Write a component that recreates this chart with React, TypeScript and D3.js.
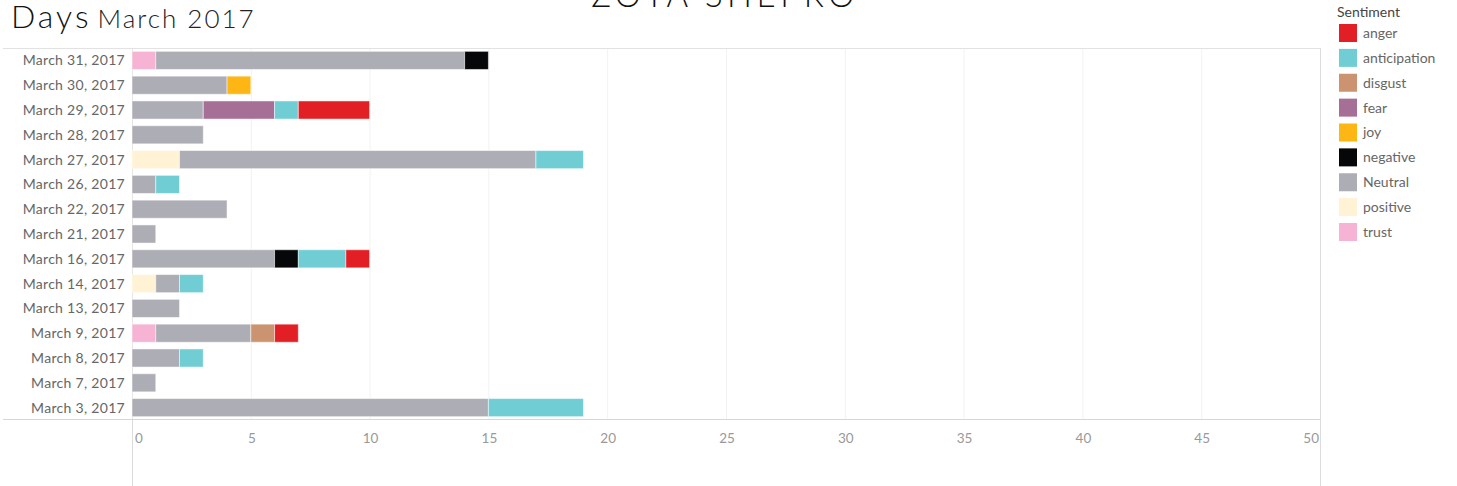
import React from "react";
import * as d3 from "d3";

const days = [
  "March 31, 2017", "March 30, 2017", "March 29, 2017", "March 28, 2017", "March 27, 2017",
  "March 26, 2017", "March 22, 2017", "March 21, 2017", "March 16, 2017", "March 14, 2017",
  "March 13, 2017", "March 9, 2017", "March 8, 2017", "March 7, 2017", "March 3, 2017",
];
const sentiments = ["anger", "anticipation", "disgust", "fear", "joy", "negative", "Neutral", "positive", "trust"];
const colors = ["#e31f26", "#70cdd4", "#cc9371", "#a56f96", "#fdb614", "#050709", "#adadb5", "#fff2d5", "#f6b3d3"];
const stackOrder = ["trust", "positive", "Neutral", "negative", "joy", "fear", "disgust", "anticipation", "anger"];

const anger =        [0, 0, 3, 0, 0, 0, 0, 0, 1, 0, 0, 1, 0, 0, 0];
const anticipation = [0, 0, 1, 0, 2, 1, 0, 0, 2, 1, 0, 0, 1, 0, 4];
const disgust =      [0, 0, 0, 0, 0, 0, 0, 0, 0, 0, 0, 1, 0, 0, 0];
const fear =         [0, 0, 3, 0, 0, 0, 0, 0, 0, 0, 0, 0, 0, 0, 0];
const joy =          [0, 1, 0, 0, 0, 0, 0, 0, 0, 0, 0, 0, 0, 0, 0];
const negative =     [1, 0, 0, 0, 0, 0, 0, 0, 1, 0, 0, 0, 0, 0, 0];
const neutral =      [13, 4, 3, 3, 15, 1, 4, 1, 6, 1, 2, 4, 2, 1, 15];
const positive =     [0, 0, 0, 0, 2, 0, 0, 0, 0, 1, 0, 0, 0, 0, 0];
const trust =        [1, 0, 0, 0, 0, 0, 0, 0, 0, 0, 0, 1, 0, 0, 0];

const xTicks = [0, 5, 10, 15, 20, 25, 30, 35, 40, 45, 50];

const seriesValues: Record<string, number[]> = {
  anger, anticipation, disgust, fear, joy, negative, Neutral: neutral, positive, trust,
};

const W = 1457, H = 486;
const FONT = "Lato, 'Open Sans', sans-serif";

export default function App() {
  const x = d3.scaleLinear().domain([0, 50]).range([132, 1320]);
  const y = d3.scaleBand<string>().domain(days).range([48, 420]).paddingInner(0.27).paddingOuter(0.135);
  const color = d3.scaleOrdinal<string, string>().domain(sentiments).range(colors);

  const table = days.map((d, i) => {
    const row: Record<string, any> = { day: d };
    sentiments.forEach((s) => (row[s] = seriesValues[s][i]));
    return row;
  });
  const stacked = d3.stack<any>().keys(stackOrder)(table);

  const legendY = d3.scalePoint<string>().domain(sentiments).range([33, 232]);
  const sw = 18;

  return (
    <svg width={W} height={H} style={{ position: "absolute", left: 0, top: 0, background: "#fff" }} fontFamily={FONT}>
      {/* title */}
      <text x={725} y={7} textAnchor="middle" fontSize={33} fontWeight={300} fill="#111" letterSpacing={4.5}>ZOYA SHEPRO</text>
      <text x={11} y={28} fontSize={32} fontWeight={300} fill="#111" letterSpacing={3}>
        Days<tspan fontSize={26} dx={6} fill="#222" letterSpacing={2}>March 2017</tspan>
      </text>

      {/* frame */}
      <line x1={3} x2={1320} y1={48.5} y2={48.5} stroke="#e2e2e2" />
      {xTicks.map((t) => (
        <line key={"g" + t} x1={x(t) + 0.5} x2={x(t) + 0.5} y1={49} y2={419} stroke={t === 0 ? "#e6e6e6" : "#f2f2f2"} />
      ))}
      <line x1={3} x2={1320} y1={419.5} y2={419.5} stroke="#d6d6d6" />
      <line x1={1320.5} x2={1320.5} y1={48} y2={486} stroke="#dcdcdc" />
      <line x1={132.5} x2={132.5} y1={420} y2={486} stroke="#dcdcdc" />

      {/* bars */}
      {stacked.map((layer) => (
        <g key={layer.key} fill={color(layer.key)}>
          {layer.map((seg, i) =>
            seg[1] - seg[0] > 0 ? (
              <rect
                key={i}
                x={x(seg[0])}
                y={y(days[i])!}
                width={x(seg[1]) - x(seg[0])}
                height={y.bandwidth()}
                stroke="#fff"
                strokeOpacity={0.5}
                strokeWidth={1}
              />
            ) : null
          )}
        </g>
      ))}

      {/* y labels */}
      {days.map((d) => (
        <text key={d} x={125} y={y(d)! + y.bandwidth() / 2} dy="0.35em" textAnchor="end" fontSize={14} fill="#666" letterSpacing={0.3}>
          {d}
        </text>
      ))}

      {/* x labels */}
      {xTicks.map((t, i) => (
        <text
          key={"t" + t}
          x={i === 0 ? x(t) + 3 : i === xTicks.length - 1 ? x(t) - 1 : x(t) + 1}
          y={438}
          dy="0.35em"
          textAnchor={i === 0 ? "start" : i === xTicks.length - 1 ? "end" : "middle"}
          fontSize={13.5}
          fill="#999"
        >
          {t}
        </text>
      ))}

      {/* legend */}
      <text x={1337} y={17} fontSize={14} fill="#444">Sentiment</text>
      {sentiments.map((s) => (
        <g key={s} transform={`translate(1339,${legendY(s)!})`}>
          <rect y={-sw / 2} width={sw} height={sw} fill={color(s)} />
          <text x={24} y={0} dy="0.35em" fontSize={14} fill="#666">{s}</text>
        </g>
      ))}
    </svg>
  );
}
